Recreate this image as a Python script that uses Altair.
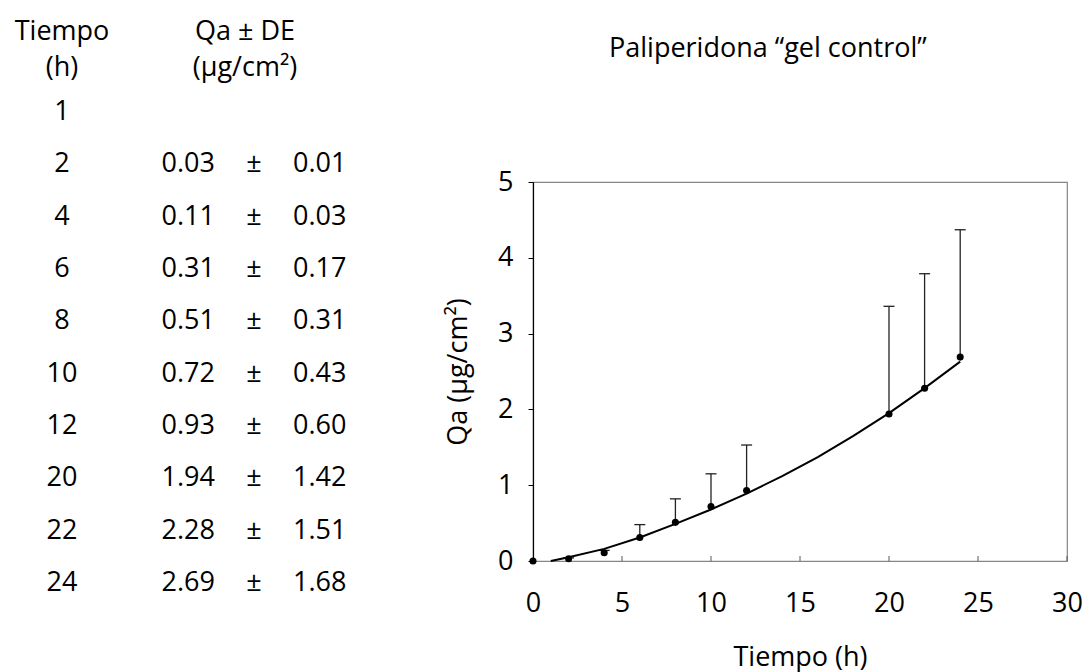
import altair as alt
import pandas as pd

# Tabla de resultados: tiempo (h), Qa y DE (µg/cm²)
tiempo = [1, 2, 4, 6, 8, 10, 12, 20, 22, 24]
qa = [None, 0.03, 0.11, 0.31, 0.51, 0.72, 0.93, 1.94, 2.28, 2.69]
de = [None, 0.01, 0.03, 0.17, 0.31, 0.43, 0.60, 1.42, 1.51, 1.68]

# Punto inicial del gráfico
t_inicial = [0]
qa_inicial = [0.0]

# Curva de ajuste
curva_t = [1, 2, 4, 6, 8, 10, 12, 14, 16, 18, 20, 22, 24]
curva_qa = [0.0, 0.05, 0.16, 0.31, 0.49, 0.68, 0.89, 1.12, 1.37, 1.65, 1.95, 2.28, 2.63]

# Marcas de los ejes
ticks_x = [0, 5, 10, 15, 20, 25, 30]
ticks_y = [0, 1, 2, 3, 4, 5]

# Textos
titulo = "Paliperidona “gel control”"
encabezado_1 = ["Tiempo", "Qa ± DE"]
encabezado_2 = ["(h)", "(μg/cm²)"]

FONT = "Open Sans"
FS = 27
W, H = 534, 379
PAD = {"left": 533, "top": 182, "right": 1085 - 533 - W, "bottom": 672 - 182 - H}

# ---------- gráfico ----------
df_puntos = pd.DataFrame({
    "t": t_inicial + [t for t, q in zip(tiempo, qa) if q is not None],
    "qa": qa_inicial + [q for q in qa if q is not None],
})
df_err = pd.DataFrame([
    {"t": t, "qa": q, "sup": q + d}
    for t, q, d in zip(tiempo, qa, de) if q is not None
])
df_curva = pd.DataFrame({"t": curva_t, "qa": curva_qa})
df_marcas = pd.DataFrame({"t": ticks_x[1:]})
df_titulo = pd.DataFrame({"texto": [titulo]})

xs = alt.Scale(domain=[0, 30], nice=False, zero=True)
ys = alt.Scale(domain=[0, 5], nice=False, zero=True)

eje_x = alt.Axis(
    values=ticks_x, title="Tiempo (h)", ticks=False, tickSize=0, grid=False,
    domainColor="#868686", domainWidth=1.2, labelPadding=29, labelFlush=False,
    labelOverlap=False, format="d",
    titleX=W / 2, titleY=104, titleBaseline="alphabetic",
)
eje_y = alt.Axis(
    values=ticks_y, title="Qa (μg/cm²)", tickSize=5, tickColor="black",
    domainColor="black", domainWidth=1.2, labelPadding=15, grid=False,
    labelOverlap=False, format="d",
    titleX=-67, titleY=H / 2, titleBaseline="alphabetic",
)

X = alt.X("t:Q", scale=xs, axis=eje_x)
Y = alt.Y("qa:Q", scale=ys, axis=eje_y)

barras = alt.Chart(df_err).mark_rule(color="#222222", strokeWidth=1.3).encode(
    x=alt.X("t:Q", scale=xs), y=alt.Y("qa:Q", scale=ys), y2="sup:Q"
)
topes = alt.Chart(df_err).mark_tick(
    orient="horizontal", size=11, thickness=1.3, color="#222222", opacity=1
).encode(x=alt.X("t:Q", scale=xs), y=alt.Y("sup:Q", scale=ys))
curva = alt.Chart(df_curva).mark_line(color="black", strokeWidth=2).encode(
    x=alt.X("t:Q", scale=xs), y=alt.Y("qa:Q", scale=ys)
)
puntos = alt.Chart(df_puntos).mark_circle(size=50, color="black", opacity=1).encode(x=X, y=Y)
marcas = alt.Chart(df_marcas).mark_rule(color="#595959", strokeWidth=1).encode(
    x=alt.X("t:Q", scale=xs), y=alt.value(H), y2=alt.value(H - 5)
)
cabecera = alt.Chart(df_titulo).mark_text(
    font=FONT, fontSize=FS, color="black", align="left", baseline="alphabetic"
).encode(x=alt.value(76), y=alt.value(-125), text="texto:N")

grafico = alt.layer(marcas, barras, topes, curva, puntos, cabecera)

# ---------- tabla ----------
filas = [str(t) for t in tiempo]
df_tabla = pd.DataFrame({
    "fila": filas,
    "c_t": "t",
    "c_q": "q",
    "tiempo": filas,
    "qa": ["" if q is None else f"{q:.2f}" for q in qa],
    "pm": ["" if q is None else "±" for q in qa],
    "de": ["" if d is None else f"{d:.2f}" for d in de],
})
df_enc = pd.DataFrame({
    "c": ["t", "q"], "fila": [filas[0]] * 2,
    "l1": encabezado_1, "l2": encabezado_2,
})

x_tab = alt.Scale(type="point", domain=["t", "q"], range=[62 - 533, 245 - 533], padding=0)
y_tab = alt.Scale(type="point", domain=filas, range=[112 - 182, 583 - 182], padding=0)


def texto(df, xcampo, campo, align="center", dx=0, dy=0):
    return alt.Chart(df).mark_text(
        font=FONT, fontSize=FS, color="black", align=align, baseline="middle", dx=dx, dy=dy
    ).encode(
        x=alt.X(f"{xcampo}:N", scale=x_tab, axis=None),
        y=alt.Y("fila:O", scale=y_tab, axis=None),
        text=f"{campo}:N",
    )


tabla = alt.layer(
    texto(df_tabla, "c_t", "tiempo"),
    texto(df_tabla, "c_q", "qa", align="right", dx=-30),
    texto(df_tabla, "c_q", "pm", dx=9),
    texto(df_tabla, "c_q", "de", align="left", dx=48),
    texto(df_enc, "c", "l1", dy=-80),
    texto(df_enc, "c", "l2", dy=-44),
)

chart = alt.layer(grafico, tabla).resolve_scale(
    x="independent", y="independent"
).properties(
    width=W, height=H,
    padding=PAD,
    autosize=alt.AutoSizeParams(type="none"),
).configure(
    font=FONT, background="white"
).configure_view(
    stroke="#868686", strokeWidth=1.2
).configure_axis(
    labelFont=FONT, labelFontSize=FS, labelColor="black",
    titleFont=FONT, titleFontSize=FS, titleColor="black", titleFontWeight="normal",
)

chart.save("out.html", embed_options={"renderer": "svg", "actions": False})
